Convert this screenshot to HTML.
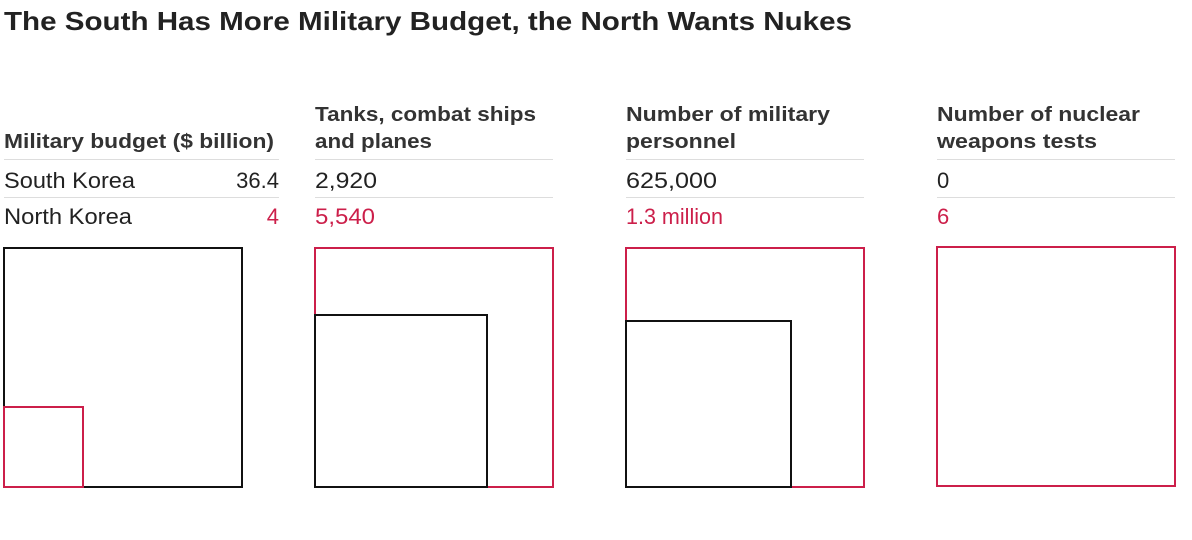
<!DOCTYPE html>
<html><head><meta charset="utf-8"><style>
html,body{margin:0;padding:0;background:#fff;}
svg{display:block;font-family:"Liberation Sans",Arial,sans-serif;}
</style></head><body>
<svg width="1192" height="540" viewBox="0 0 1192 540">
<text x="4" y="30" font-size="26" font-weight="bold" fill="#222" textLength="848" lengthAdjust="spacingAndGlyphs">The South Has More Military Budget, the North Wants Nukes</text>
<g font-size="20" font-weight="bold" fill="#333">
<text x="4" y="148" textLength="270" lengthAdjust="spacingAndGlyphs">Military budget ($ billion)</text>
<text x="315" y="121" textLength="221" lengthAdjust="spacingAndGlyphs">Tanks, combat ships</text>
<text x="315" y="148" textLength="117" lengthAdjust="spacingAndGlyphs">and planes</text>
<text x="626" y="121" textLength="204" lengthAdjust="spacingAndGlyphs">Number of military</text>
<text x="626" y="148" textLength="110" lengthAdjust="spacingAndGlyphs">personnel</text>
<text x="937" y="121" textLength="203" lengthAdjust="spacingAndGlyphs">Number of nuclear</text>
<text x="937" y="148" textLength="160" lengthAdjust="spacingAndGlyphs">weapons tests</text>
</g>
<g stroke="#ddd" stroke-width="1">
<line x1="4" y1="159.5" x2="279" y2="159.5"/><line x1="4" y1="197.5" x2="279" y2="197.5"/>
<line x1="315" y1="159.5" x2="553" y2="159.5"/><line x1="315" y1="197.5" x2="553" y2="197.5"/>
<line x1="626" y1="159.5" x2="864" y2="159.5"/><line x1="626" y1="197.5" x2="864" y2="197.5"/>
<line x1="937" y1="159.5" x2="1175" y2="159.5"/><line x1="937" y1="197.5" x2="1175" y2="197.5"/>
</g>
<g font-size="22" fill="#222">
<text x="4" y="188" textLength="131" lengthAdjust="spacingAndGlyphs">South Korea</text>
<text x="279" y="188" text-anchor="end">36.4</text>
<text x="315" y="188" textLength="62" lengthAdjust="spacingAndGlyphs">2,920</text>
<text x="626" y="188" textLength="91" lengthAdjust="spacingAndGlyphs">625,000</text>
<text x="937" y="188">0</text>
<text x="4" y="224" textLength="128" lengthAdjust="spacingAndGlyphs">North Korea</text>
</g>
<g font-size="22" fill="#cc1f4a">
<text x="279" y="224" text-anchor="end">4</text>
<text x="315" y="224" textLength="60" lengthAdjust="spacingAndGlyphs">5,540</text>
<text x="626" y="224" textLength="97" lengthAdjust="spacingAndGlyphs">1.3 million</text>
<text x="937" y="224">6</text>
</g>
<g fill="none" stroke-width="2">
<rect x="4" y="248" width="238" height="239" stroke="#111"/>
<rect x="4" y="407" width="79" height="80" stroke="#cc1f4a"/>
<rect x="315" y="248" width="238" height="239" stroke="#cc1f4a"/>
<rect x="315" y="315" width="172" height="172" stroke="#111"/>
<rect x="626" y="248" width="238" height="239" stroke="#cc1f4a"/>
<rect x="626" y="321" width="165" height="166" stroke="#111"/>
<rect x="937" y="247" width="238" height="239" stroke="#cc1f4a"/>
</g>
</svg>
</body></html>
